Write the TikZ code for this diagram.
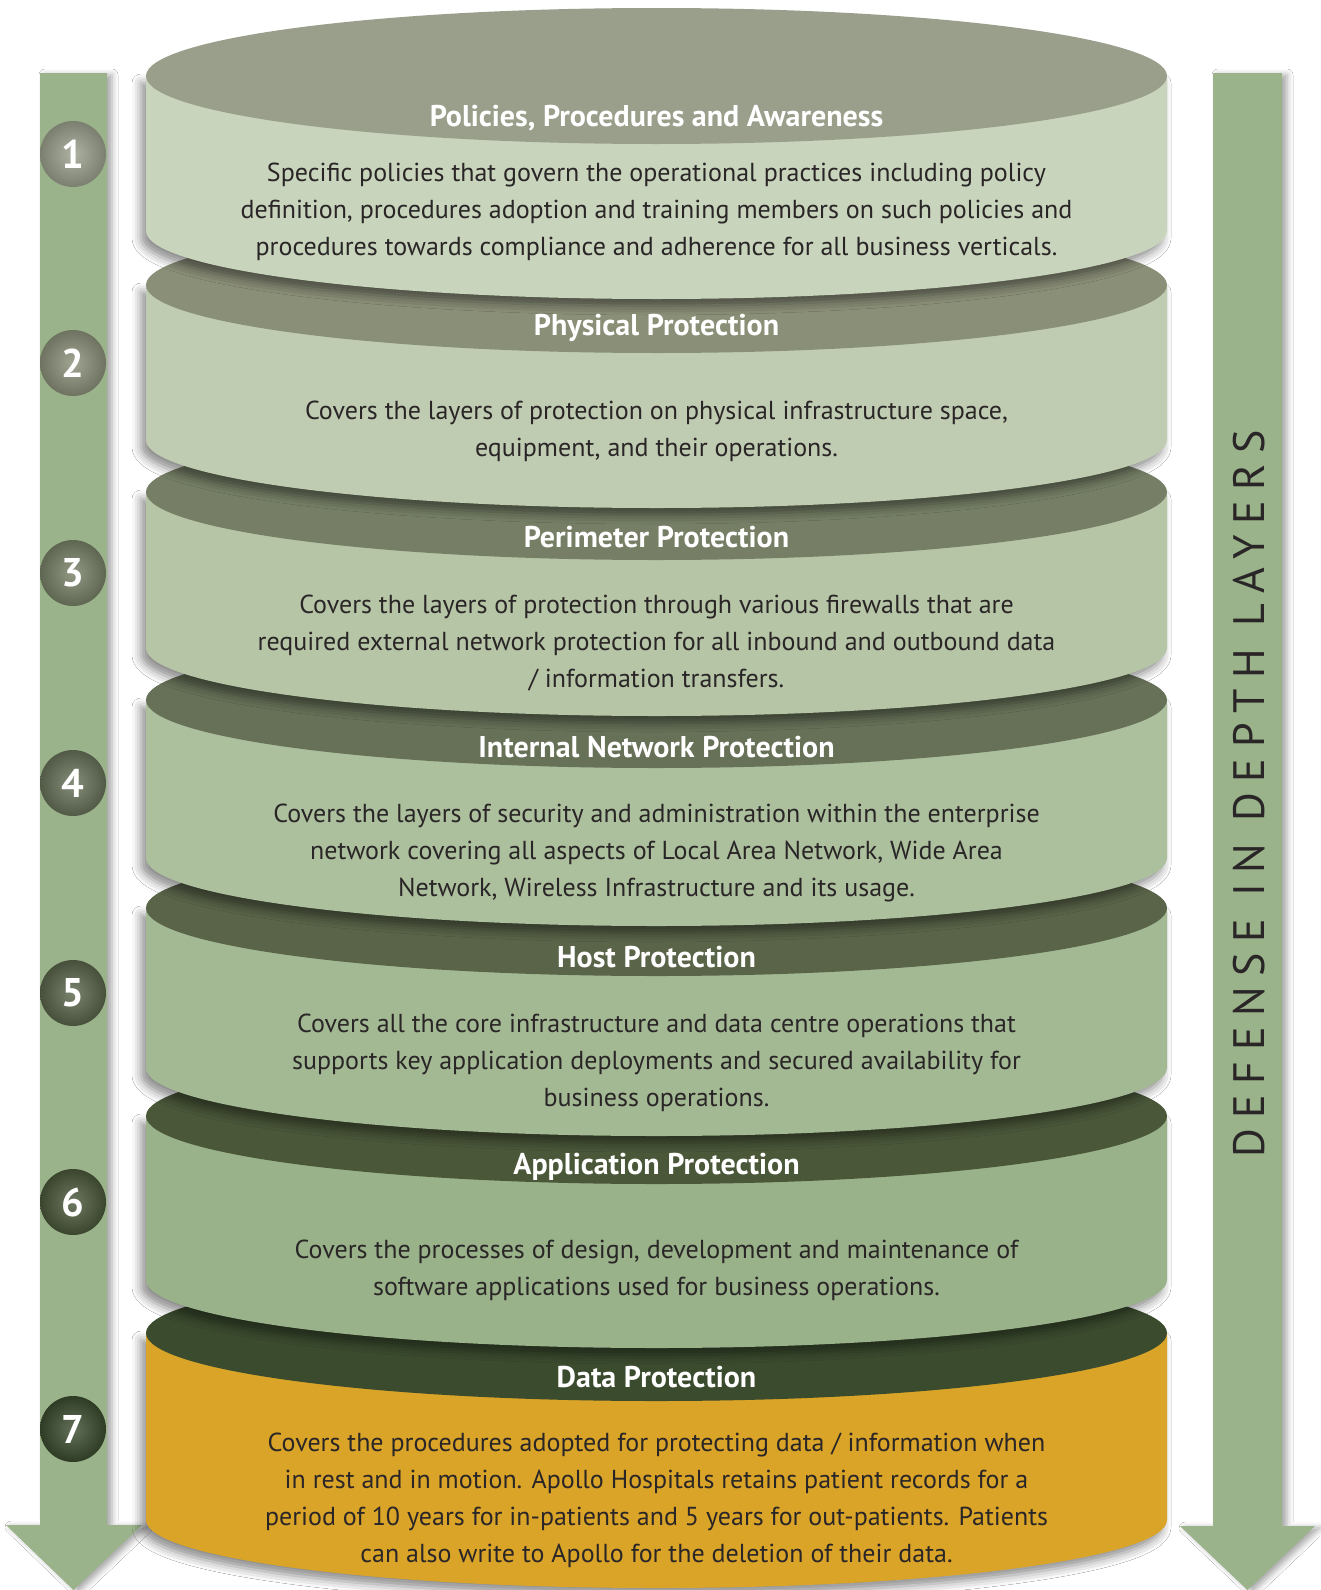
\documentclass[tikz,border=0pt]{standalone}
\usepackage{fontspec}
\setmainfont{PT Sans}
\usetikzlibrary{shadows.blur}

\definecolor{arrowgreen}{HTML}{9AB38A}
\definecolor{sideA}{HTML}{C8D4BB}\definecolor{topA}{HTML}{9A9F8C}
\definecolor{sideB}{HTML}{C0CCB2}\definecolor{topB}{HTML}{8A8F78}
\definecolor{sideC}{HTML}{B6C5A6}\definecolor{topC}{HTML}{767F66}
\definecolor{sideD}{HTML}{ACC09D}\definecolor{topD}{HTML}{667158}
\definecolor{sideE}{HTML}{A3B993}\definecolor{topE}{HTML}{596449}
\definecolor{sideF}{HTML}{99B289}\definecolor{topF}{HTML}{4A5739}
\definecolor{sideG}{HTML}{DAA428}\definecolor{topG}{HTML}{3B4B2E}
\definecolor{ink}{HTML}{2A2627}

% one disc of the stack: centre of top, bottom of side, side colour, top colour
\newcommand\layer[4]{%
  \fill[#3, layershadow] (146,#1) -- (146,#2)
     arc[start angle=180, end angle=360, x radius=510.5pt, y radius=68pt]
     -- (1167,#1) -- cycle;
  \fill[#4] (656.5,#1) ellipse[x radius=510.5pt, y radius=68pt];
}

\begin{document}
\begin{tikzpicture}[x=1pt, y=-1pt,
    layershadow/.style = {blur shadow={shadow xshift=-5pt, shadow yshift=-7pt,
                          shadow blur radius=9pt, shadow opacity=45}},
    arrowshadow/.style = {blur shadow={shadow xshift=5pt, shadow yshift=-2pt,
                          shadow blur radius=6pt, shadow opacity=35}},
          ball/.style = {circle, minimum size=66pt, inner sep=0pt, text=white,
                         inner color=#1!80!white, outer color=#1!80!black,
                         font=\bfseries\fontsize{40}{40}\selectfont},
           ttl/.style = {text=white, font=\bfseries\fontsize{30}{32}\selectfont},
           txt/.style = {text=ink, align=center, font=\fontsize{26}{37}\selectfont},
       sidelbl/.style = {text=ink, rotate=90,
                         font=\addfontfeature{LetterSpace=24}\fontsize{44}{44}\selectfont}
    ]
\useasboundingbox (0,0) rectangle (1320,1590);
\fill[white] (0,0) rectangle (1320,1590);

% arrows
\fill[arrowgreen, arrowshadow] (40,73) -- (107,73) -- (107,1525) -- (142,1525)
     -- (73.5,1590) -- (6,1525) -- (40,1525) -- cycle;
\fill[arrowgreen, arrowshadow] (1213,73) -- (1282,73) -- (1282,1526) -- (1315,1526)
     -- (1247.5,1590) -- (1180,1526) -- (1213,1526) -- cycle;

% the stack, bottom disc first
\layer{1333}{1520}{sideG}{topG}
\layer{1116}{1280}{sideF}{topF}
\layer{908}{1068}{sideE}{topE}
\layer{700}{858}{sideD}{topD}
\layer{492}{648}{sideC}{topC}
\layer{285}{440}{sideB}{topB}
\layer{76}{231}{sideA}{topA}

% numbers
\node[ball=topA] (n1) at (73,154)  {1};
\node[ball=topB] (n2) at (73,363)  {2};
\node[ball=topC] (n3) at (73,573)  {3};
\node[ball=topD] (n4) at (73,783)  {4};
\node[ball=topE] (n5) at (73,993)  {5};
\node[ball=topF] (n6) at (73,1202) {6};
\node[ball=topG] (n7) at (73,1429) {7};

% titles
\node[ttl] (t1) at (656.5,118)  {Policies, Procedures and Awareness};
\node[ttl] (t2) at (656.5,328)  {Physical Protection};
\node[ttl] (t3) at (656.5,537)  {Perimeter Protection};
\node[ttl] (t4) at (656.5,747)  {Internal Network Protection};
\node[ttl] (t5) at (656.5,957)  {Host Protection};
\node[ttl] (t6) at (656.5,1167) {Application Protection};
\node[ttl] (t7) at (656.5,1377) {Data Protection};

% descriptions
\node[txt] (d1) at (656.5,212) {Specific policies that govern the operational practices including policy\\
  definition, procedures adoption and training members on such policies and\\
  procedures towards compliance and adherence for all business verticals.};
\node[txt] (d2) at (656.5,431) {Covers the layers of protection on physical infrastructure space,\\
  equipment, and their operations.};
\node[txt] (d3) at (656.5,643) {Covers the layers of protection through various firewalls that are\\
  required external network protection for all inbound and outbound data\\
  / information transfers.};
\node[txt] (d4) at (656.5,853) {Covers the layers of security and administration within the enterprise\\
  network covering all aspects of Local Area Network, Wide Area\\
  Network, Wireless Infrastructure and its usage.};
\node[txt] (d5) at (656.5,1063) {Covers all the core infrastructure and data centre operations that\\
  supports key application deployments and secured availability for\\
  business operations.};
\node[txt] (d6) at (656.5,1270) {Covers the processes of design, development and maintenance of\\
  software applications used for business operations.};
\node[txt] (d7) at (656.5,1500) {Covers the procedures adopted for protecting data / information when\\
  in rest and in motion. Apollo Hospitals retains patient records for a\\
  period of 10 years for in-patients and 5 years for out-patients. Patients\\
  can also write to Apollo for the deletion of their data.};

\node[sidelbl] (lbl) at (1249,794) {DEFENSE IN DEPTH LAYERS};
\end{tikzpicture}
\end{document}
